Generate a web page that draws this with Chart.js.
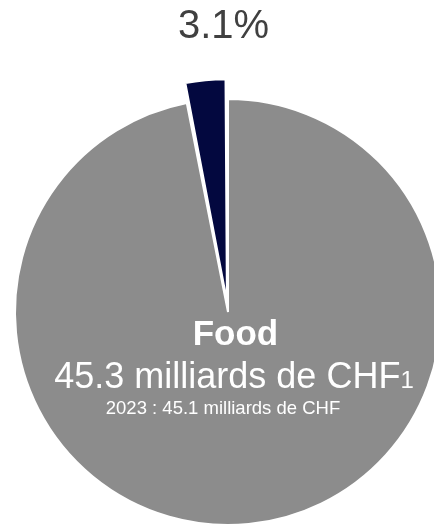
<!DOCTYPE html>
<html>
<head>
<meta charset="utf-8">
<script src="https://cdn.jsdelivr.net/npm/chart.js@4/dist/chart.umd.min.js"></script>
<style>
  html, body { margin: 0; padding: 0; background: #fff; overflow: hidden; width: 434px; height: 525px; }
  #wrap { position: absolute; left: 0; top: 0; width: 456px; height: 624px; }
  .lbl { position: absolute; white-space: nowrap; line-height: 1; font-family: "Liberation Sans", Arial, sans-serif; transform: translateX(-50%); }
  #pct { left: 223.5px; top: 4.4px; font-size: 40px; color: #404040; }
  #name { left: 235.5px; top: 315.4px; font-size: 35px; font-weight: bold; color: #fff; }
  #value { left: 234px; top: 357.5px; font-size: 36px; color: #fff; }
  #value sup { font-size: 24px; vertical-align: baseline; }
  #prev { left: 223px; top: 399.3px; font-size: 18.5px; color: #fff; }
</style>
</head>
<body>
<div id="wrap"><canvas id="pie" width="456" height="624"></canvas></div>
<div class="lbl" id="pct"></div>
<div class="lbl" id="name"></div>
<div class="lbl" id="value"></div>
<div class="lbl" id="prev"></div>
<script>
// slices: big grey rest, small dark share
var categories = ['Food', 'Part'];
var values = [96.9, 3.1];
var colors = ['#8c8c8c', '#03083f'];
var offsets = [0, 44];

var segment = 'Food';
var total = '45.3';
var prevYear = '2023';
var prevTotal = '45.1';

var sum = values[0] + values[1];
document.getElementById('pct').textContent = (values[1] / sum * 100).toFixed(1) + '%';
document.getElementById('name').textContent = segment;
document.getElementById('value').innerHTML = total + ' milliards de CHF<sup>1</sup>';
document.getElementById('prev').textContent = prevYear + ' : ' + prevTotal + ' milliards de CHF';

var ctx = document.getElementById('pie').getContext('2d');
var myChart = new Chart(ctx, {
    type: 'pie',
    data: {
        labels: categories,
        datasets: [{
            data: values,
            backgroundColor: colors,
            borderColor: '#ffffff',
            borderWidth: 2,
            offset: offsets
        }]
    },
    options: {
        responsive: false,
        animation: false,
        radius: 213,
        layout: { padding: 0 },
        plugins: {
            legend: { display: false },
            tooltip: { enabled: false }
        }
    }
});
</script>
</body>
</html>
